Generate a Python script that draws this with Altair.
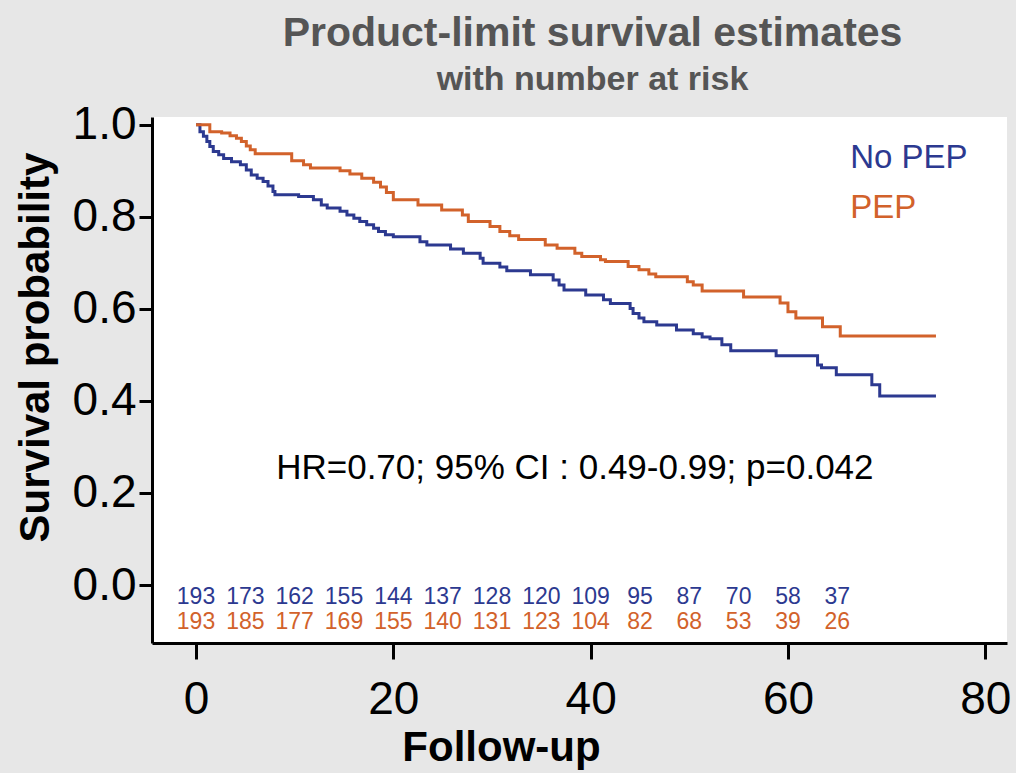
import altair as alt
import pandas as pd

# ---- data ----
nopep_t = [0, 0.4, 0.75, 1.1, 1.4, 1.75, 2.3, 2.8, 3.6, 4.5,
           5.1, 5.6, 6.2, 6.8, 7.3, 7.8, 8.0, 10.4, 11.9, 12.7,
           13.3, 14.6, 15.3, 16.0, 16.6, 17.3, 18.0, 18.5, 19.2, 20.0,
           22.7, 23.4, 25.8, 27.1, 28.8, 29.1, 30.8, 31.5, 33.9, 36.2,
           36.8, 37.3, 39.5, 41.3, 42.0, 44.0, 44.3, 44.9, 45.4, 46.7,
           48.7, 50.4, 51.3, 52.1, 53.3, 54.2, 58.8, 63.0, 63.4, 64.9,
           68.5, 69.3, 75.0]
nopep_s = [1.0, 0.985, 0.975, 0.964, 0.953, 0.942, 0.935, 0.927, 0.92, 0.913,
           0.902, 0.891, 0.884, 0.877, 0.867, 0.855, 0.848, 0.844, 0.837, 0.826,
           0.819, 0.812, 0.804, 0.797, 0.79, 0.783, 0.775, 0.768, 0.761, 0.757,
           0.746, 0.739, 0.73, 0.721, 0.71, 0.699, 0.691, 0.683, 0.674, 0.663,
           0.652, 0.641, 0.63, 0.62, 0.612, 0.601, 0.59, 0.58, 0.572, 0.565,
           0.554, 0.546, 0.539, 0.535, 0.522, 0.509, 0.498, 0.478, 0.472, 0.457,
           0.435, 0.411, 0.411]

pep_t = [0, 1.4, 2.6, 3.45, 4.1, 4.6, 5.1, 5.5, 6.0, 9.7,
         10.9, 11.6, 14.6, 15.6, 16.8, 18.0, 18.7, 19.3, 20.0, 22.5,
         24.9, 27.0, 27.6, 29.8, 30.8, 31.8, 32.7, 35.4, 36.6, 38.4,
         39.1, 41.0, 41.5, 43.8, 44.9, 45.9, 46.6, 49.8, 50.4, 51.3,
         55.5, 59.2, 60.0, 60.8, 63.5, 65.3, 75.0]
pep_s = [1.0, 0.985, 0.982, 0.976, 0.971, 0.964, 0.954, 0.946, 0.937, 0.922,
         0.913, 0.906, 0.9, 0.893, 0.884, 0.875, 0.865, 0.853, 0.837, 0.826,
         0.815, 0.804, 0.79, 0.779, 0.768, 0.759, 0.751, 0.739, 0.732, 0.721,
         0.714, 0.707, 0.703, 0.692, 0.685, 0.676, 0.67, 0.659, 0.652, 0.639,
         0.626, 0.613, 0.594, 0.58, 0.561, 0.541, 0.541]

risk_times = [0, 5, 10, 15, 20, 25, 30, 35, 40, 45, 50, 55, 60, 65]
nopep_risk = [193, 173, 162, 155, 144, 137, 128, 120, 109, 95, 87, 70, 58, 37]
pep_risk = [193, 185, 177, 169, 155, 140, 131, 123, 104, 82, 68, 53, 39, 26]

group_names = ["No PEP", "PEP"]
annotation = "HR=0.70; 95% CI : 0.49-0.99; p=0.042"

BLUE = "#2c3990"
ORANGE = "#d2622b"
FONT = "Liberation Sans, Arial, Helvetica, sans-serif"

curves = pd.concat([
    pd.DataFrame({"t": nopep_t, "s": nopep_s, "g": group_names[0]}),
    pd.DataFrame({"t": pep_t, "s": pep_s, "g": group_names[1]}),
])

xs = alt.Scale(domain=[-4.46, 82.2], nice=False, zero=False)
ys = alt.Scale(domain=[-0.126, 1.017], nice=False, zero=False)
cs = alt.Scale(domain=group_names, range=[BLUE, ORANGE])

lines = alt.Chart(curves).mark_line(interpolate="step-after", strokeWidth=3).encode(
    x=alt.X("t:Q", scale=xs, title="Follow-up",
            axis=alt.Axis(values=[0, 20, 40, 60, 80], format="d",
                          titleX=349, titleY=117, titleBaseline="alphabetic",
                          titleAlign="center")),
    y=alt.Y("s:Q", scale=ys, title="Survival probability",
            axis=alt.Axis(values=[0, 0.2, 0.4, 0.6, 0.8, 1.0], format=".1f",
                          titleX=-117, titleY=230, titleAngle=270,
                          titleAlign="center", titleBaseline="middle")),
    color=alt.Color("g:N", scale=cs, legend=None),
    detail="g:N",
)

risk_blue = alt.Chart(pd.DataFrame({"t": risk_times, "n": nopep_risk})).mark_text(
    font=FONT, fontSize=23, color=BLUE, baseline="middle", align="center"
).encode(x=alt.X("t:Q", scale=xs), y=alt.datum(-0.026), text="n:Q")

risk_orange = alt.Chart(pd.DataFrame({"t": risk_times, "n": pep_risk})).mark_text(
    font=FONT, fontSize=23, color=ORANGE, baseline="middle", align="center"
).encode(x=alt.X("t:Q", scale=xs), y=alt.datum(-0.080), text="n:Q")

legend_df = pd.DataFrame({"g": group_names, "t": [66.3, 66.3], "s": [0.928, 0.82]})
legend_text = alt.Chart(legend_df).mark_text(
    font=FONT, fontSize=33, align="left", baseline="middle"
).encode(
    x=alt.X("t:Q", scale=xs), y=alt.Y("s:Q", scale=ys), text="g:N",
    color=alt.Color("g:N", scale=cs, legend=None),
)

annot = alt.Chart(pd.DataFrame({"label": [annotation]})).mark_text(
    font=FONT, fontSize=35, color="black",
    align="center", baseline="middle"
).encode(x=alt.datum(38.4), y=alt.datum(0.255), text="label:N")

chart = alt.layer(lines, risk_blue, risk_orange, legend_text, annot).properties(
    width=855, height=526,
    title=alt.TitleParams(
        text="Product-limit survival estimates",
        subtitle="with number at risk",
        font=FONT, fontSize=41, fontWeight="bold", color="#555555",
        subtitleFont=FONT, subtitleFontSize=34, subtitleFontWeight="bold",
        subtitleColor="#555555", subtitlePadding=8,
        anchor="middle", dx=13, offset=4,
    ),
    autosize=alt.AutoSizeParams(type="none"),
    padding={"left": 152, "top": 117, "right": 9, "bottom": 130},
    background="#e7e7e7",
).configure_view(
    fill="white", stroke=None
).configure_axis(
    domainColor="black", domainWidth=3, tickColor="black", tickWidth=3,
    labelColor="black", labelFont=FONT, grid=False,
    titleColor="black", titleFont=FONT, titleFontWeight="bold",
).configure_axisX(
    tickSize=16, labelFontSize=46, labelPadding=18, titleFontSize=42,
).configure_axisY(
    tickSize=13, labelFontSize=46, labelPadding=3, titleFontSize=42,
)

chart.save("out.html", embed_options={"renderer": "svg", "actions": False})
